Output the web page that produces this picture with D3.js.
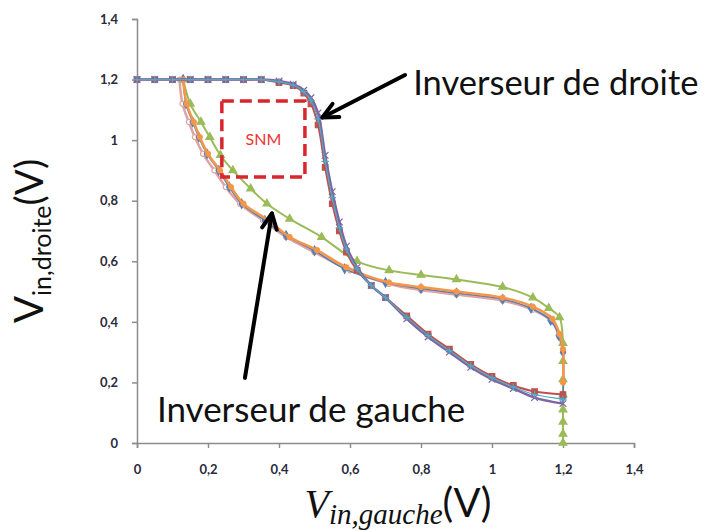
<!DOCTYPE html>
<html>
<head>
<meta charset="utf-8">
<script src="https://cdn.jsdelivr.net/npm/d3@7"></script>
<style>
  body { margin: 0; background: #fff; }
  svg { display: block; }
</style>
</head>
<body>
<script>
// tick values
const xTicks = [0, 0.2, 0.4, 0.6, 0.8, 1, 1.2, 1.4]
const yTicks = [0, 0.2, 0.4, 0.6, 0.8, 1, 1.2, 1.4]

// right inverter: Vin,droite as a function of Vin,gauche
const rightX = [0, 0.05, 0.1, 0.15, 0.2, 0.25, 0.3, 0.35, 0.4, 0.44, 0.47, 0.49, 0.51, 0.53, 0.55, 0.57, 0.59, 0.62, 0.66, 0.7, 0.76, 0.82, 0.88, 0.94, 1.0, 1.06, 1.12, 1.2]
const purpleY = [1.2, 1.2, 1.2, 1.2, 1.2, 1.2, 1.2, 1.2, 1.195, 1.185, 1.165, 1.14, 1.09, 0.95, 0.83, 0.73, 0.65, 0.58, 0.52, 0.48, 0.41, 0.35, 0.3, 0.25, 0.21, 0.18, 0.15, 0.13]
const redY = [1.2, 1.2, 1.2, 1.2, 1.2, 1.2, 1.2, 1.2, 1.19, 1.18, 1.155, 1.12, 1.05, 0.91, 0.79, 0.7, 0.63, 0.57, 0.52, 0.48, 0.42, 0.36, 0.31, 0.26, 0.22, 0.19, 0.17, 0.16]
const aquaY = [1.2, 1.2, 1.2, 1.2, 1.2, 1.2, 1.2, 1.2, 1.193, 1.182, 1.16, 1.13, 1.07, 0.93, 0.81, 0.71, 0.64, 0.575, 0.52, 0.48, 0.415, 0.355, 0.305, 0.255, 0.215, 0.185, 0.16, 0.145]

// left inverter: points (Vin,gauche ; Vin,droite)
const greenX = [0.13, 0.15, 0.18, 0.205, 0.235, 0.27, 0.32, 0.366, 0.43, 0.52, 0.62, 0.71, 0.8, 0.9, 1.03, 1.115, 1.16, 1.19, 1.2, 1.2, 1.2, 1.2, 1.2, 1.2, 1.2, 1.2]
const greenY = [1.2, 1.12, 1.06, 1.01, 0.95, 0.9, 0.84, 0.79, 0.74, 0.68, 0.6, 0.57, 0.555, 0.54, 0.515, 0.48, 0.445, 0.415, 0.33, 0.27, 0.21, 0.16, 0.11, 0.07, 0.03, 0]
const orangeX = [0.13, 0.14, 0.16, 0.177, 0.2, 0.234, 0.265, 0.3, 0.37, 0.43, 0.507, 0.59, 0.71, 0.8, 0.9, 1.03, 1.115, 1.17, 1.19, 1.2, 1.2]
const orangeY = [1.2, 1.12, 1.06, 1.01, 0.955, 0.9, 0.845, 0.79, 0.735, 0.68, 0.637, 0.58, 0.53, 0.515, 0.5, 0.48, 0.45, 0.41, 0.36, 0.31, 0.2]
const blueX = [0.13, 0.138, 0.157, 0.174, 0.197, 0.23, 0.26, 0.295, 0.36, 0.42, 0.5, 0.585, 0.7, 0.8, 0.9, 1.03, 1.11, 1.165, 1.188, 1.2, 1.2]
const blueY = [1.2, 1.12, 1.06, 1.01, 0.955, 0.9, 0.845, 0.79, 0.735, 0.685, 0.635, 0.575, 0.53, 0.51, 0.495, 0.475, 0.445, 0.405, 0.355, 0.3, 0.15]
const pinkX = [0.12, 0.128, 0.146, 0.163, 0.186, 0.218, 0.25, 0.29, 0.355, 0.42, 0.5, 0.6, 0.71, 0.8, 0.9, 1.03, 1.115, 1.17, 1.19, 1.2]
const pinkY = [1.2, 1.12, 1.06, 1.01, 0.955, 0.9, 0.845, 0.79, 0.735, 0.68, 0.63, 0.57, 0.525, 0.505, 0.49, 0.47, 0.44, 0.4, 0.35, 0.3]

const width = 712, height = 531

const svg = d3.select('body').append('svg')
  .attr('width', width)
  .attr('height', height)

const x = d3.scaleLinear().domain([0, 1.4]).range([137, 634])
const y = d3.scaleLinear().domain([0, 1.4]).range([443, 19])

const fmt = d => String(+d.toFixed(1)).replace('.', ',')

// axes
const gx = svg.append('g')
  .attr('transform', `translate(0,${y(0)})`)
  .call(d3.axisBottom(x).tickValues(xTicks).tickSize(5).tickSizeOuter(5).tickPadding(17).tickFormat(fmt))
const gy = svg.append('g')
  .attr('transform', `translate(${x(0)},0)`)
  .call(d3.axisLeft(y).tickValues(yTicks).tickSize(5).tickSizeOuter(5).tickPadding(14).tickFormat(fmt))

for (const g of [gx, gy]) {
  g.select('.domain').attr('stroke', '#8c8c8c').attr('stroke-width', 1.5)
  g.selectAll('.tick line').attr('stroke', '#8c8c8c').attr('stroke-width', 1.5)
  g.selectAll('.tick text')
    .attr('fill', '#2b2b3a')
    .style('font-family', 'Lato, "Open Sans", sans-serif')
    .style('font-weight', 'bold')
    .style('font-size', '13px')
}

const line = d3.line()
  .x(d => x(d[0]))
  .y(d => y(d[1]))
  .curve(d3.curveCatmullRom.alpha(0.5))

const zip = (xs, ys) => xs.map((v, i) => [v, ys[i]])

const series = [
  { pts: zip(pinkX, pinkY), color: '#dfa3a1', width: 2.5, sym: d3.symbolCircle, size: 20, fill: '#fff' },
  { pts: zip(greenX, greenY), color: '#9bbb59', width: 2, sym: d3.symbolTriangle, size: 26, fill: '#9bbb59' },
  { pts: zip(blueX, blueY), color: '#4f81bd', width: 1.5, sym: d3.symbolDiamond, size: 24, fill: '#4f81bd' },
  { pts: zip(orangeX, orangeY), color: '#f79646', width: 2.5, sym: d3.symbolCircle, size: 20, fill: '#f79646' },
  { pts: zip(rightX, redY), color: '#c0504d', width: 2, sym: d3.symbolSquare, size: 30, fill: '#c0504d' },
  { pts: zip(rightX, purpleY), color: '#8064a2', width: 2.5, sym: d3.symbolX, size: 30, fill: 'none' },
  { pts: zip(rightX, aquaY), color: '#4bacc6', width: 1.2, sym: d3.symbolPlus, size: 20, fill: 'none' }
]

for (const s of series) {
  const g = svg.append('g')
  g.append('path')
    .attr('d', line(s.pts))
    .attr('fill', 'none')
    .attr('stroke', s.color)
    .attr('stroke-width', s.width)
  g.selectAll('path.m')
    .data(s.pts)
    .join('path')
    .attr('class', 'm')
    .attr('transform', d => `translate(${x(d[0])},${y(d[1])})`)
    .attr('d', d3.symbol(s.sym, s.size))
    .attr('fill', s.fill)
    .attr('stroke', s.color)
    .attr('stroke-width', 1.2)
}

// SNM box
const snm = { x0: 0.239, x1: 0.473, y0: 0.878, y1: 1.129 }
svg.append('rect')
  .attr('x', x(snm.x0)).attr('y', y(snm.y1))
  .attr('width', x(snm.x1) - x(snm.x0))
  .attr('height', y(snm.y0) - y(snm.y1))
  .attr('fill', 'none')
  .attr('stroke', '#d9252d')
  .attr('stroke-width', 3.5)
  .attr('stroke-dasharray', '12,6')
svg.append('text')
  .attr('x', x((snm.x0 + snm.x1) / 2))
  .attr('y', y((snm.y0 + snm.y1) / 2) + 6)
  .attr('text-anchor', 'middle')
  .attr('fill', '#ee3333')
  .style('font-family', 'Lato, sans-serif')
  .style('font-size', '16px')
  .text('SNM')

// arrows
function arrow(x1, y1, x2, y2) {
  const a = Math.atan2(y(y2) - y(y1), x(x2) - x(x1))
  const hl = 17, ha = 0.45
  const tx = x(x2), ty = y(y2)
  svg.append('line')
    .attr('x1', x(x1)).attr('y1', y(y1)).attr('x2', tx).attr('y2', ty)
    .attr('stroke', '#000').attr('stroke-width', 4).attr('stroke-linecap', 'round')
  svg.append('path')
    .attr('d', `M${tx - hl * Math.cos(a - ha)},${ty - hl * Math.sin(a - ha)}L${tx},${ty}L${tx - hl * Math.cos(a + ha)},${ty - hl * Math.sin(a + ha)}`)
    .attr('fill', 'none').attr('stroke', '#000').attr('stroke-width', 4)
    .attr('stroke-linecap', 'round').attr('stroke-linejoin', 'round')
}
arrow(0.755, 1.215, 0.522, 1.075)
arrow(0.304, 0.215, 0.38, 0.758)

const labelFont = 'Lato, "Open Sans", sans-serif'
svg.append('text')
  .attr('x', x(0.778)).attr('y', y(1.15))
  .attr('fill', '#111')
  .style('font-family', labelFont).style('font-size', '34.5px')
  .text('Inverseur de droite')
svg.append('text')
  .attr('x', x(0.056)).attr('y', y(0.07))
  .attr('fill', '#111')
  .style('font-family', labelFont).style('font-size', '35px')
  .text('Inverseur de gauche')

// y axis title
const yt = svg.append('text')
  .attr('transform', 'translate(43,241) rotate(-90)')
  .attr('text-anchor', 'middle')
  .attr('fill', '#111')
  .style('font-family', labelFont)
yt.append('tspan').style('font-size', '40px').text('V')
yt.append('tspan').style('font-size', '25px').attr('dy', 8).text('in,droite')
yt.append('tspan').style('font-size', '38px').attr('dy', -8).text('(V)')

// x axis title
const xt = svg.append('text')
  .attr('x', 398).attr('y', 517)
  .attr('text-anchor', 'middle')
  .attr('fill', '#111')
xt.append('tspan').style('font-family', '"Liberation Serif", serif').style('font-style', 'italic').style('font-size', '40px').text('V')
xt.append('tspan').style('font-family', '"Liberation Serif", serif').style('font-style', 'italic').style('font-size', '29px').attr('dy', 7).text('in,gauche')
xt.append('tspan').style('font-family', labelFont).style('font-size', '40px').attr('dy', -7).text('(V)')
</script>
</body>
</html>
